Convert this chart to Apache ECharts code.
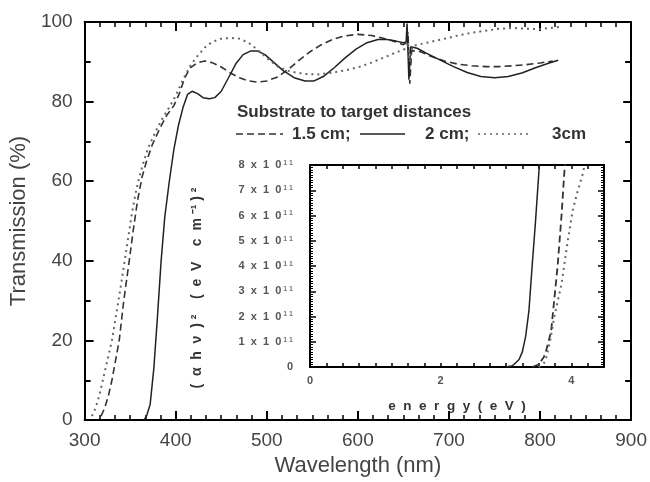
<!DOCTYPE html>
<html>
<head>
<meta charset="utf-8">
<script src="https://cdn.jsdelivr.net/npm/echarts@6/dist/echarts.min.js"></script>
<style>
  html, body { margin: 0; padding: 0; background: #fff; }
  #chart { width: 650px; height: 482px; }
</style>
</head>
<body>
<div id="chart"></div>
<script>
// main plot: transmission (%) vs wavelength (nm)
const wl15 = [318, 322, 326, 330, 334, 338, 343, 349, 353, 358, 363, 368, 374, 382, 390, 398, 404, 410, 416, 424, 432, 440, 450, 460, 470, 480, 490, 500, 512, 524, 536, 548, 560, 572, 585, 600, 615, 630, 642, 650, 653, 655, 657, 659, 668, 680, 695, 710, 725, 740, 755, 770, 785, 800, 814];
const tr15 = [1, 3, 6, 10, 15, 20, 30, 40, 47, 55, 61, 65, 69, 73, 76.5, 79, 82, 86, 88.5, 89.8, 90.2, 89.8, 88.7, 87.2, 86, 85.2, 84.9, 85.2, 86.2, 88.2, 90.5, 92.6, 94.3, 95.6, 96.5, 96.9, 96.6, 95.8, 95, 94.3, 94.8, 97.5, 84.5, 92.8, 92.6, 91.4, 90.2, 89.4, 89, 88.8, 88.8, 89, 89.3, 89.7, 90.2];

const wl2 = [365, 368, 372, 376, 380, 384, 388, 393, 398, 403, 408, 413, 418, 424, 430, 437, 443, 450, 458, 466, 474, 482, 490, 498, 508, 518, 530, 542, 552, 562, 574, 586, 598, 610, 622, 632, 642, 650, 653, 654, 656, 658, 665, 675, 690, 705, 720, 735, 750, 765, 780, 795, 810, 820];
const tr2 = [0, 1, 4, 13, 26, 40, 51, 60, 68, 74, 78.5, 81.8, 82.6, 82, 81, 80.7, 81, 82.6, 86, 89.5, 91.8, 92.7, 92.7, 91.8, 89.8, 87.8, 86, 85.2, 85.2, 86.3, 88.5, 91, 93.2, 94.8, 95.6, 95.6, 95.2, 94.8, 95, 99.6, 85.5, 93.8, 93.4, 92.2, 90.5, 88.8, 87.3, 86.3, 86, 86.3, 87.2, 88.5, 89.7, 90.4];

const wl3 = [308, 312, 316, 320, 325, 330, 335, 340, 344, 348, 352, 356, 360, 365, 370, 378, 386, 394, 400, 408, 416, 424, 432, 440, 450, 460, 470, 480, 490, 500, 512, 525, 540, 555, 570, 585, 600, 615, 630, 642, 650, 653, 655, 657, 660, 670, 680, 695, 710, 725, 740, 755, 770, 785, 800, 815, 822];
const tr3 = [1, 3, 6, 10, 15, 20, 27, 34, 40, 46, 52, 57, 61, 65, 68.5, 72.5, 76, 79, 81.5, 85.5, 89, 91.5, 93.6, 95, 95.8, 96, 95.8, 94.8, 93, 91, 88.8, 87.6, 87, 86.8, 87.2, 87.8, 88.6, 89.8, 91.2, 92.4, 93, 93.5, 95, 90, 94, 94.5, 95, 95.8, 96.6, 97.3, 97.8, 98.3, 98.5, 98.3, 98.2, 98.6, 98.8];

// inset: (alpha h nu)^2 in units of 1e11 vs energy (eV)
const en15 = [3.4, 3.5, 3.58, 3.62, 3.69, 3.74, 3.79, 3.85, 3.89, 3.93];
const ah15 = [0, 0.1, 0.4, 0.7, 1.4, 2.7, 4, 6, 7.6, 9];
const en2 = [3.0, 3.1, 3.2, 3.25, 3.3, 3.35, 3.4, 3.45, 3.5, 3.55];
const ah2 = [0, 0.05, 0.3, 0.6, 1.2, 2.2, 4, 5.7, 7.6, 9.5];
const en3 = [3.5, 3.58, 3.62, 3.68, 3.74, 3.8, 3.85, 3.94, 4.02, 4.1, 4.17, 4.22];
const ah3 = [0, 0.15, 0.4, 1.1, 2, 2.7, 3.3, 4.9, 6.2, 7, 7.6, 8.2];

const insetXLabels = [0, 2, 4];

const pairs = (xs, ys) => xs.map((x, i) => [x, ys[i]]);

const FONT = 'Liberation Sans, Arial, sans-serif';
const TXT = '#444';
const DASH = [7, 4];
const DOT = [2, 4];

// ticks every 0.25 eV on the inset energy axis
const insetTicks = [];
for (let i = 0; i <= 18; i++) insetTicks.push(i * 0.25);

const frameLine = { show: true, onZero: false, lineStyle: { color: '#000', width: 2 } };

function frameAxis(extra) {
    return Object.assign({
        type: 'value',
        axisLine: frameLine,
        splitLine: { show: false },
        minorSplitLine: { show: false },
        axisLabel: { show: false }
    }, extra);
}

const chart = echarts.init(document.getElementById('chart'));

const option = {
    animation: false,
    backgroundColor: '#fff',
    grid: [
        { left: 80, right: 18, top: 22, bottom: 54 },
        { left: 310, top: 165, width: 294, height: 202 }
    ],
    xAxis: [
        frameAxis({
            gridIndex: 0, position: 'bottom', min: 300, max: 900, interval: 100,
            axisTick: { inside: true, length: 9, lineStyle: { color: '#000', width: 2 } },
            minorTick: { show: true, splitNumber: 6, length: 5, lineStyle: { color: '#000', width: 1.5 } },
            axisLabel: { show: true, fontSize: 19, color: TXT, margin: 11, fontFamily: FONT },
            name: 'Wavelength (nm)', nameLocation: 'middle', nameGap: 26,
            nameTextStyle: { fontSize: 22, color: TXT, fontFamily: FONT }
        }),
        frameAxis({
            gridIndex: 0, position: 'top', min: 300, max: 900, interval: 100,
            axisTick: { inside: true, length: 9, lineStyle: { color: '#000', width: 2 } },
            minorTick: { show: true, splitNumber: 6, length: 5, lineStyle: { color: '#000', width: 1.5 } }
        }),
        frameAxis({
            gridIndex: 1, position: 'bottom', min: 0, max: 4.5, interval: 0.25,
            axisTick: { inside: true, length: 4, customValues: insetTicks, lineStyle: { color: '#000', width: 1.5 } },
            axisLabel: {
                show: true, customValues: insetXLabels, fontSize: 11, fontWeight: 'bold',
                color: '#555', margin: 8, fontFamily: FONT
            },
            name: 'e  n  e  r  g  y  (  e  V  )', nameLocation: 'middle', nameGap: 32,
            nameTextStyle: { fontSize: 13.5, fontWeight: 'bold', color: '#333', fontFamily: FONT }
        }),
        frameAxis({
            gridIndex: 1, position: 'top', min: 0, max: 4.5, interval: 0.25,
            axisTick: { inside: true, length: 4, customValues: insetTicks, lineStyle: { color: '#000', width: 1.5 } }
        })
    ],
    yAxis: [
        frameAxis({
            gridIndex: 0, position: 'left', min: 0, max: 100, interval: 20,
            axisTick: { inside: true, length: 9, lineStyle: { color: '#000', width: 2 } },
            minorTick: { show: true, splitNumber: 2, length: 6, lineStyle: { color: '#000', width: 2 } },
            axisLabel: { show: true, fontSize: 19, color: TXT, margin: 12, fontFamily: FONT },
            name: 'Transmission (%)', nameLocation: 'middle', nameGap: 46,
            nameTextStyle: { fontSize: 22, color: TXT, fontFamily: FONT }
        }),
        frameAxis({
            gridIndex: 0, position: 'right', min: 0, max: 100, interval: 20,
            axisTick: { inside: true, length: 8, lineStyle: { color: '#000', width: 2 } },
            minorTick: { show: true, splitNumber: 2, length: 6, lineStyle: { color: '#000', width: 2 } }
        }),
        frameAxis({
            gridIndex: 1, position: 'left', min: 0, max: 8, interval: 1,
            axisTick: { inside: true, length: 6, lineStyle: { color: '#000', width: 1.5 } },
            minorTick: { show: true, splitNumber: 10, length: 3, lineStyle: { color: '#000', width: 1 } },
            axisLabel: {
                show: true, margin: 17, fontFamily: FONT,
                formatter: v => v === 0 ? '{z|0}' : '{a|' + v + '  x  1  0}{s| 1 1}',
                rich: {
                    a: { fontSize: 11, fontWeight: 'bold', color: '#555', fontFamily: FONT },
                    s: { fontSize: 7, fontWeight: 'bold', color: '#777', verticalAlign: 'top', fontFamily: FONT },
                    z: { fontSize: 11, fontWeight: 'bold', color: '#555', fontFamily: FONT }
                }
            }
        }),
        frameAxis({
            gridIndex: 1, position: 'right', min: 0, max: 8, interval: 1,
            axisTick: { inside: true, length: 6, lineStyle: { color: '#000', width: 1.5 } },
            minorTick: { show: true, splitNumber: 10, length: 3, lineStyle: { color: '#000', width: 1 } }
        })
    ],
    series: [
        { name: '1.5 cm', type: 'line', xAxisIndex: 0, yAxisIndex: 0, showSymbol: false, symbol: 'none',
          lineStyle: { color: '#333', width: 1.6, type: DASH }, data: pairs(wl15, tr15) },
        { name: '2 cm', type: 'line', xAxisIndex: 0, yAxisIndex: 0, showSymbol: false, symbol: 'none',
          lineStyle: { color: '#222', width: 1.5 }, data: pairs(wl2, tr2) },
        { name: '3cm', type: 'line', xAxisIndex: 0, yAxisIndex: 0, showSymbol: false, symbol: 'none',
          lineStyle: { color: '#666', width: 2, type: DOT }, data: pairs(wl3, tr3) },
        { name: 'inset 1.5 cm', type: 'line', xAxisIndex: 2, yAxisIndex: 2, showSymbol: false, symbol: 'none', clip: true,
          lineStyle: { color: '#333', width: 1.8, type: DASH }, data: pairs(en15, ah15) },
        { name: 'inset 2 cm', type: 'line', xAxisIndex: 2, yAxisIndex: 2, showSymbol: false, symbol: 'none', clip: true,
          lineStyle: { color: '#222', width: 1.5 }, data: pairs(en2, ah2) },
        { name: 'inset 3cm', type: 'line', xAxisIndex: 2, yAxisIndex: 2, showSymbol: false, symbol: 'none', clip: true,
          lineStyle: { color: '#666', width: 2, type: DOT }, data: pairs(en3, ah3) }
    ],
    graphic: [
        // legend block
        { type: 'text', x: 237, y: 112, style: { text: 'Substrate to target distances', fontSize: 17, fontWeight: 'bold',
          fill: '#333', fontFamily: FONT, textVerticalAlign: 'middle' } },
        { type: 'line', shape: { x1: 236, y1: 134, x2: 283, y2: 134 }, style: { stroke: '#333', lineWidth: 1.6, lineDash: DASH } },
        { type: 'text', x: 292, y: 134, style: { text: '1.5 cm;', fontSize: 17, fontWeight: 'bold', fill: '#333',
          fontFamily: FONT, textVerticalAlign: 'middle' } },
        { type: 'line', shape: { x1: 360, y1: 134, x2: 405, y2: 134 }, style: { stroke: '#222', lineWidth: 1.5 } },
        { type: 'text', x: 425, y: 134, style: { text: '2 cm;', fontSize: 17, fontWeight: 'bold', fill: '#333',
          fontFamily: FONT, textVerticalAlign: 'middle' } },
        { type: 'line', shape: { x1: 478, y1: 134, x2: 528, y2: 134 }, style: { stroke: '#888', lineWidth: 2, lineDash: DOT } },
        { type: 'text', x: 552, y: 134, style: { text: '3cm', fontSize: 17, fontWeight: 'bold', fill: '#333',
          fontFamily: FONT, textVerticalAlign: 'middle' } },
        // inset y title
        { type: 'text', x: 197, y: 288, rotation: Math.PI / 2,
          style: { text: '(  α  h  ν  ) ²    (  e  V    c  m ⁻¹ ) ²', fontSize: 14, fontWeight: 'bold', fill: '#333',
          fontFamily: FONT, textAlign: 'center', textVerticalAlign: 'middle' } }
    ]
};

chart.setOption(option);
</script>
</body>
</html>
